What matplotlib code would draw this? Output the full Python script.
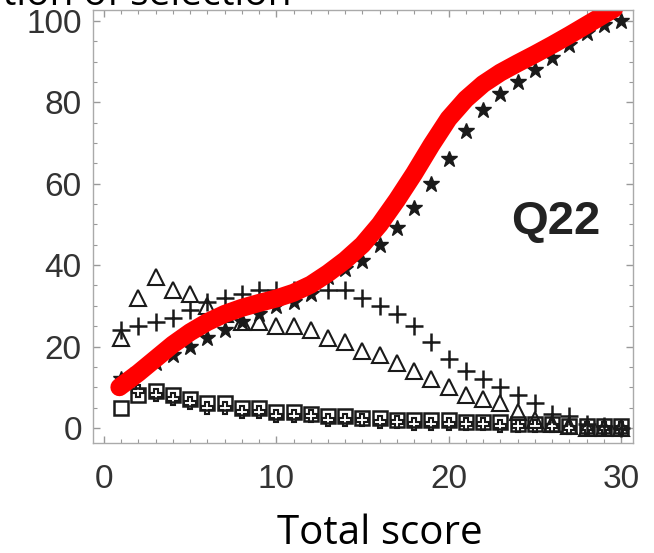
import matplotlib
matplotlib.use("Agg")
import matplotlib.pyplot as plt
from matplotlib.ticker import MultipleLocator

# total score 1..30
score = list(range(1, 31))
# proportion of selection (%) per option
opt_star = [12, 14, 16, 18, 20, 22, 24, 26, 28, 30, 31, 33, 37, 39, 41, 45, 49, 54, 60, 66,
            73, 78, 82, 85, 88, 91, 94, 97, 99, 100]
opt_tri = [22, 32, 37, 34, 33, 30, 28, 26, 26, 25, 25, 24, 22, 21, 19, 18, 16, 14, 12, 10,
           8, 7, 6, 4, 2, 1, 0.5, 0, 0, 0]
opt_plus = [24, 25, 26, 27, 29, 31, 32, 33, 34, 34, 34, 35, 34, 34, 32, 30, 28, 25, 21, 17,
            14, 12, 10, 8, 6, 3.5, 3, 1, 0.5, 0]
opt_sq = [5, 8, 9, 8, 7, 6, 6, 5, 5, 4, 4, 3.5, 3, 3, 2.5, 2.5, 2, 2, 2, 2,
          1.5, 1.5, 1.5, 1, 1, 1, 0.5, 0.5, 0.5, 0.5]
opt_dia = [11, 9, 8, 7, 6, 5, 5, 4, 4, 3, 3, 3, 2, 2, 2, 1.5, 1.5, 1, 1, 1,
           1, 1, 0.5, 0.5, 0.5, 0.5, 0, 0, 0, 0]

# red trend line drawn over the plot
trend_x = [0.9, 2, 3, 4, 5, 6, 7, 8, 9, 10, 11, 12, 13, 14, 15, 16, 17, 18, 19, 20,
           21, 22, 23, 24, 25, 26, 27, 28, 29, 29.6]
trend_y = [10, 13.5, 17, 20.5, 23.5, 26, 28, 29.5, 30.7, 31.8, 33.2, 35.2, 38, 41.2, 45, 50, 56, 62.5, 69.5, 76,
           80.8, 84.5, 87.3, 89.6, 91.8, 94.1, 96.5, 99, 101.5, 103]

fig = plt.figure(figsize=(6.54, 5.53), dpi=100)
ax = fig.add_axes([0.142, 0.199, 0.826, 0.783])

ink = "#1a1a1a"
ax.plot(score, opt_sq, ls="none", marker="s", ms=10, mfc="none", mec=ink, mew=1.8)
ax.plot(score, opt_dia, ls="none", marker="P", ms=9, mfc="none", mec=ink, mew=1.5)
ax.plot(score, opt_tri, ls="none", marker="^", ms=11, mfc="none", mec=ink, mew=1.5)
ax.plot(score, opt_plus, ls="none", marker="+", ms=13, mec=ink, mew=1.8)
ax.plot(score, opt_star, ls="none", marker="*", ms=12, mfc=ink, mec=ink)

ax.plot(trend_x, trend_y, color="#ff0000", lw=13, solid_capstyle="round", solid_joinstyle="round")

ax.set_xlim(-0.64, 30.7)
ax.set_ylim(-3.7, 102.7)
ax.xaxis.set_major_locator(MultipleLocator(10))
ax.xaxis.set_minor_locator(MultipleLocator(1))
ax.yaxis.set_major_locator(MultipleLocator(20))
ax.yaxis.set_minor_locator(MultipleLocator(5))
ax.tick_params(which="both", direction="in", top=True, right=True, colors="#999999",
               labelcolor="#333333")
ax.tick_params(which="major", length=5, width=1)
ax.tick_params(which="minor", length=3, width=0.8)
ax.tick_params(axis="x", labelsize=24, pad=15)
ax.tick_params(axis="y", labelsize=24, pad=8)
for lab in ax.get_xticklabels() + ax.get_yticklabels():
    lab.set_family("Liberation Sans")
for s in ax.spines.values():
    s.set_color("#aaaaaa")
    s.set_linewidth(1)

ax.text(0.857, 0.51, "Q22", transform=ax.transAxes, ha="center", va="center",
        fontsize=34, fontweight="bold", family="Liberation Sans", color="#222222")

fig.text(0.58, 9 / 553, "Total score", ha="center", va="baseline", fontsize=29,
         family="Open Sans", color="black")
fig.text(0.445, 1 - 5 / 553, "Proportion of selection", ha="right", va="baseline",
         fontsize=28, family="Open Sans", color="black")

fig.savefig("out.png", dpi=100)
